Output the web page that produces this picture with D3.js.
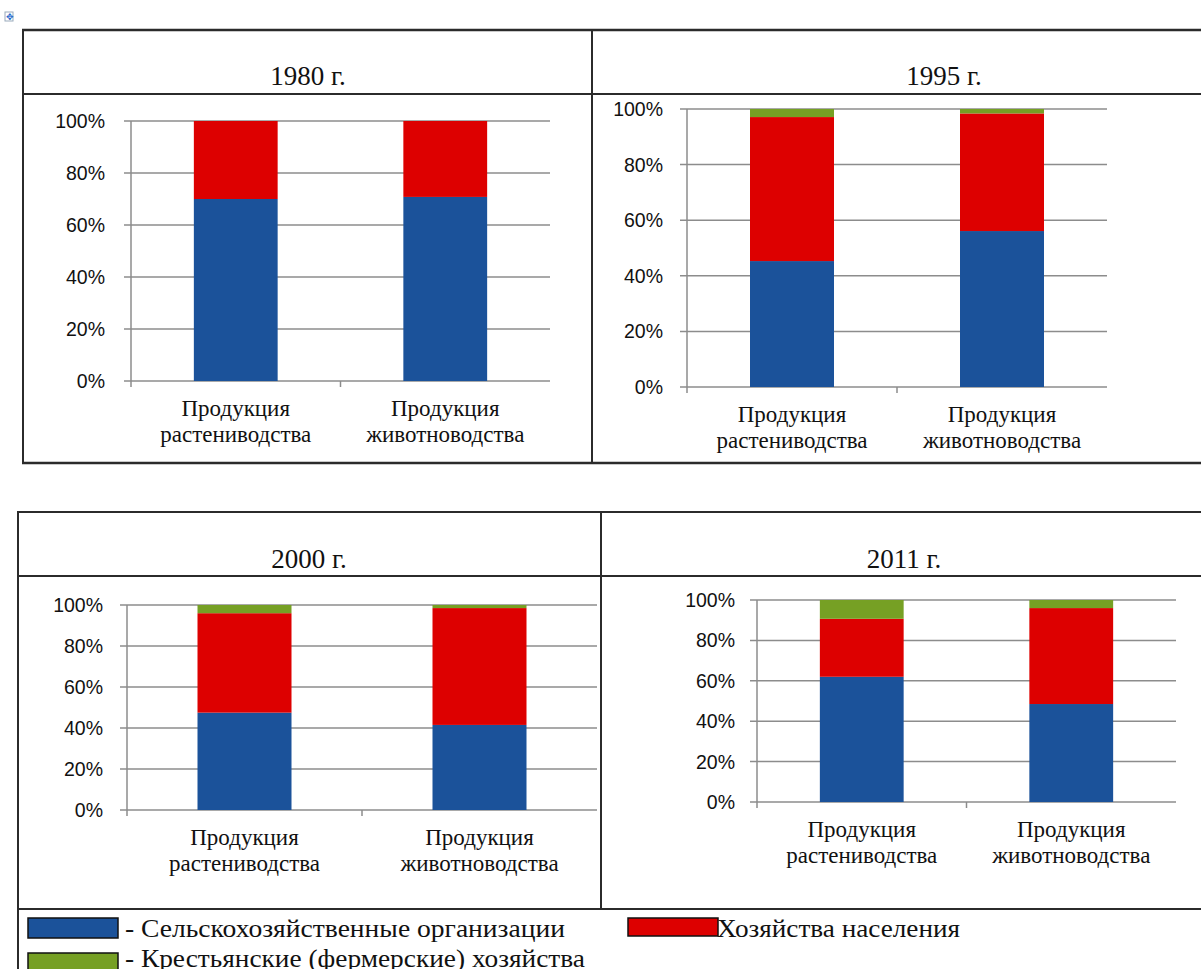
<!DOCTYPE html>
<html><head><meta charset="utf-8">
<script src="https://cdn.jsdelivr.net/npm/d3@7"></script>
<style>html,body{margin:0;padding:0;background:#fff;overflow:hidden}</style>
</head><body>
<svg id="c" width="1201" height="969"></svg>
<script>
// ---- data ----
const years = ["1980 г.", "1995 г.", "2000 г.", "2011 г."];
const categories = ["Продукция растениводства", "Продукция животноводства"];
const categoryLines = [["Продукция", "растениводства"], ["Продукция", "животноводства"]];
const seriesNames = ["- Сельскохозяйственные организации", "Хозяйства населения", "- Крестьянские (фермерские) хозяйства"];
const orgCrop   = [70.0, 45.3, 47.5, 62.0];
const orgLive   = [70.8, 56.1, 41.5, 48.5];
const houseCrop = [30.0, 51.8, 48.5, 28.7];
const houseLive = [29.2, 42.3, 57.0, 47.5];
const farmCrop  = [0.0, 2.9, 4.0, 9.3];
const farmLive  = [0.0, 1.6, 1.5, 4.0];
const tickValues = [0, 20, 40, 60, 80, 100];
const tickLabels = ["0%", "20%", "40%", "60%", "80%", "100%"];

// ---- style/layout ----
const colors = ["#1b529a", "#dd0000", "#76a024"];
const keys = ["org", "house", "farm"];
const panels = [
  {x0: 131, x1: 550, y0: 121, y1: 381, tx: 308, ty: 85, lblX: 105},
  {x0: 687, x1: 1107, y0: 109, y1: 387, tx: 944, ty: 85, lblX: 663},
  {x0: 127, x1: 597, y0: 605, y1: 810, tx: 309, ty: 568, lblX: 103},
  {x0: 757, x1: 1176, y0: 600, y1: 802, tx: 904, ty: 568, lblX: 735}
];
const svg = d3.select("#c");
const serif = "'Liberation Serif','Times New Roman',serif";
const sans = "'Liberation Sans',Arial,sans-serif";
const border = "#2b2b2b";

function line(x1, y1, x2, y2, w, c) {
  svg.append("line").attr("x1", x1).attr("y1", y1).attr("x2", x2).attr("y2", y2)
    .attr("stroke", c || border).attr("stroke-width", w || 2);
}
// table handle icon
svg.append("rect").attr("x", 5).attr("y", 12).attr("width", 8).attr("height", 9).attr("fill", "#fff").attr("stroke", "#9ab").attr("stroke-width", 1);
svg.append("text").attr("x", 6).attr("y", 20).attr("font-size", 9).attr("fill", "#2266cc").attr("font-family", sans).text("✥");

// top table
line(22, 30, 1201, 30, 2.5); line(22, 94, 1201, 94, 2); line(22, 463, 1201, 463, 2.5);
line(23, 30, 23, 463, 2); line(592, 30, 592, 463, 2);
// bottom table
line(17, 512, 1201, 512, 2); line(17, 576, 1201, 576, 2); line(17, 909, 1201, 909, 2);
line(18, 512, 18, 969, 2); line(601, 512, 601, 909, 2);

panels.forEach((p, i) => {
  const data = [
    {cat: categories[0], org: orgCrop[i], house: houseCrop[i], farm: farmCrop[i]},
    {cat: categories[1], org: orgLive[i], house: houseLive[i], farm: farmLive[i]}
  ];
  const x = d3.scaleBand().domain(categories).range([p.x0, p.x1]).paddingInner(0.6).paddingOuter(0.3);
  const xb = d3.scaleBand().domain(categories).range([p.x0, p.x1]);
  const y = d3.scaleLinear().domain([0, 100]).range([p.y1, p.y0]);
  const g = svg.append("g");
  // grid
  g.selectAll(".grid").data(tickValues).enter().append("line")
    .attr("x1", p.x0 - 7).attr("x2", p.x1).attr("y1", d => y(d)).attr("y2", d => y(d))
    .attr("stroke", "#8c8c8c").attr("stroke-width", 1.5);
  // y labels
  g.selectAll(".yl").data(tickValues).enter().append("text")
    .attr("x", p.lblX).attr("y", d => y(d) + 7).attr("text-anchor", "end")
    .attr("font-family", sans).attr("font-size", 19.5).attr("fill", "#111")
    .text((d, k) => tickLabels[k]);
  // bars
  const stack = d3.stack().keys(keys)(data);
  stack.forEach((s, k) => {
    g.selectAll(".b" + k).data(s).enter().append("rect")
      .attr("x", d => x(d.data.cat)).attr("width", x.bandwidth())
      .attr("y", d => y(d[1])).attr("height", d => Math.max(0, y(d[0]) - y(d[1])))
      .attr("fill", colors[k]);
  });
  // axis
  g.append("line").attr("x1", p.x0).attr("x2", p.x0).attr("y1", p.y0).attr("y2", p.y1 + 6)
    .attr("stroke", "#8c8c8c").attr("stroke-width", 1.5);
  categories.forEach((c, k) => {
    if (k > 0) g.append("line").attr("x1", xb(c)).attr("x2", xb(c)).attr("y1", p.y1).attr("y2", p.y1 + 6)
      .attr("stroke", "#8c8c8c").attr("stroke-width", 1.5);
    const cx = xb(c) + xb.bandwidth() / 2;
    categoryLines[k].forEach((t, j) => {
      g.append("text").attr("x", cx).attr("y", p.y1 + 35 + j * 26).attr("text-anchor", "middle")
        .attr("font-family", serif).attr("font-size", 23).attr("fill", "#111").text(t);
    });
  });
  // title
  svg.append("text").attr("x", p.tx).attr("y", p.ty).attr("text-anchor", "middle")
    .attr("font-family", serif).attr("font-size", 27).attr("fill", "#111").text(years[i]);
});

// legend
const leg = [
  {x: 28, y: 918, h: 20, tx: 125, ty: 937, w: 440},
  {x: 628, y: 918, h: 18, tx: 717, ty: 937, w: 243},
  {x: 28, y: 953, h: 20, tx: 125, ty: 967, w: 460}
];
leg.forEach((l, k) => {
  svg.append("rect").attr("x", l.x).attr("y", l.y).attr("width", 90).attr("height", l.h)
    .attr("fill", colors[k]).attr("stroke", "#111").attr("stroke-width", 1.5);
  svg.append("text").attr("x", l.tx).attr("y", l.ty).attr("font-family", serif).attr("font-size", 26)
    .attr("fill", "#111").attr("textLength", l.w).attr("lengthAdjust", "spacingAndGlyphs").text(seriesNames[k]);
});
</script>
</body></html>
